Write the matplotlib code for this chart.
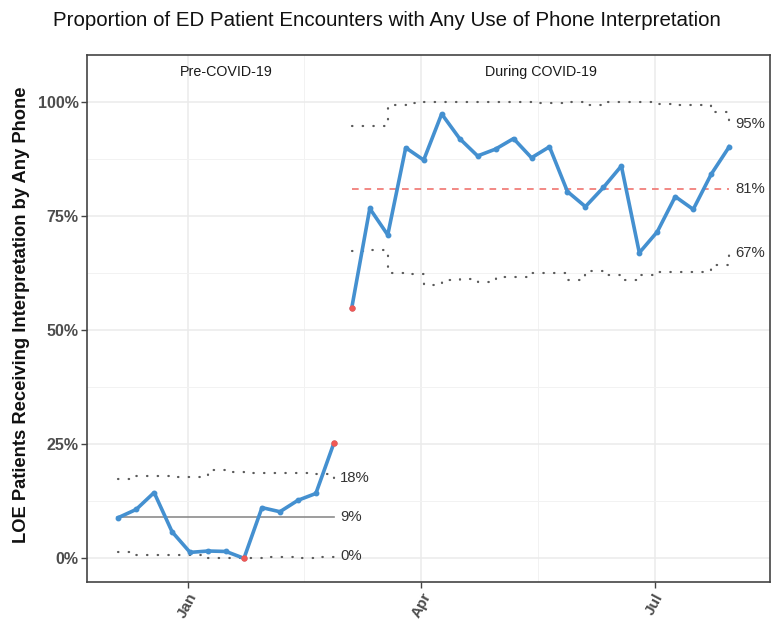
import numpy as np
import pandas as pd
import matplotlib
matplotlib.use("Agg")
from matplotlib import pyplot as plt
import matplotlib.dates as mdates
from matplotlib.ticker import FixedLocator

plt.rcParams["font.family"] = ["Liberation Sans", "DejaVu Sans"]

TITLE = "Proportion of ED Patient Encounters with Any Use of Phone Interpretation"
Y_LABEL = "LOE Patients Receiving Interpretation by Any Phone"
PHASES = ["Pre-COVID-19", "During COVID-19"]

# weekly samples (percent)
week_dates = pd.date_range("2019-12-05", periods=35, freq="7D")
n_pre = 13

pre_rate = [8.9, 10.7, 14.4, 5.8, 1.3, 1.6, 1.5, 0.0, 11.1, 10.2, 12.7, 14.2, 25.2]
pre_ucl = [17.3, 18.0, 18.0, 17.8, 17.7, 19.4, 19.0, 18.7, 18.6, 18.6, 18.6, 18.5, 17.6]
pre_lcl = [1.4, 0.7, 0.7, 0.7, 0.8, 0.0, 0.0, 0.1, 0.2, 0.2, 0.1, 0.2, 0.4]
pre_cl = 9.05

post_rate = [54.9, 76.6, 70.8, 89.9, 87.2, 97.3, 91.9, 88.1, 89.6, 91.9, 87.7,
             90.1, 80.3, 77.0, 81.2, 85.9, 66.9, 71.5, 79.2, 76.4, 84.1, 90.1]
post_ucl = [94.6, 94.6, 99.2, 99.8, 100, 100, 100, 100, 99.9, 100, 99.8,
            99.7, 100, 99.2, 99.9, 100, 99.9, 99.4, 99.3, 99.3, 97.8, 95.0]
post_lcl = [67.3, 67.5, 62.5, 62.3, 59.8, 60.9, 61.1, 60.6, 61.6, 61.6, 62.5,
            62.5, 60.9, 63.0, 62.0, 61.0, 62.0, 62.6, 62.7, 62.6, 64.2, 66.8]
post_cl = 80.8

MAJOR_TICKS = ["2020-01-01", "2020-04-01", "2020-07-01"]
MAJOR_LABELS = ["Jan", "Apr", "Jul"]
Y_TICKS = [0, 25, 50, 75, 100]

BLUE = "#4490d0"
RED = "#f15854"
LIMIT_GREY = "#5a5a5a"
DOTS = (0, (0.2, 4.6))


def _plot_phase(ax, x, rate, ucl, lcl, cl, cl_style):
    ax.plot(x, ucl, drawstyle="steps-post", ls=DOTS, lw=1.6, color=LIMIT_GREY,
            dash_capstyle="round", zorder=2)
    ax.plot(x, lcl, drawstyle="steps-post", ls=DOTS, lw=1.6, color=LIMIT_GREY,
            dash_capstyle="round", zorder=2)
    ax.plot([x[0], x[-1]], [cl, cl], zorder=2, **cl_style)
    ax.plot(x, rate, color=BLUE, lw=2.6, marker="o", ms=3.2, zorder=3)
    rate, ucl, lcl = map(np.asarray, (rate, ucl, lcl))
    out = (rate > ucl) | (rate < lcl)
    ax.plot(x[out], rate[out], ls="", marker="o", ms=3.6, color=RED, zorder=4)
    # end labels
    off = 2.5
    for v in (ucl[-1], cl, lcl[-1]):
        ax.text(x[-1] + off, v, "{:d}%".format(int(round(v))), ha="left",
                va="center", fontsize=10.7, color="#333333")


fig = plt.figure(figsize=(7.73, 6.26), dpi=100)
ax = fig.add_axes([87 / 773, 1 - 582.3 / 626, (770 - 87) / 773, (582.3 - 55) / 626])

xnum = mdates.date2num(week_dates.to_pydatetime())
x_pre, x_post = xnum[:n_pre], xnum[n_pre:]

_plot_phase(ax, x_pre, pre_rate, pre_ucl, pre_lcl, pre_cl,
            dict(color="#8c8c8c", lw=1.2, ls="-"))
_plot_phase(ax, x_post, post_rate, post_ucl, post_lcl, post_cl,
            dict(color="#f07470", lw=1.2, ls=(0, (4, 3.5))))

# phase labels
ax.text((x_pre[0] + x_pre[-1]) / 2, 106.5, PHASES[0], ha="center", va="center",
        fontsize=10.3, color="#1a1a1a")
ax.text((x_post[0] + x_post[-1]) / 2, 106.5, PHASES[1], ha="center", va="center",
        fontsize=10.3, color="#1a1a1a")

# axes
jan1 = mdates.date2num(pd.Timestamp("2020-01-01").to_pydatetime())
ax.set_xlim(jan1 - 39.15, jan1 + 226.9)
ax.set_ylim(-5.25, 110.2)

major = mdates.date2num(pd.to_datetime(MAJOR_TICKS).to_pydatetime())
ax.set_xticks(major)
ax.set_xticklabels(MAJOR_LABELS, rotation=62, ha="center", va="top",
                   fontsize=11, fontweight="bold", color="#4d4d4d")
ax.xaxis.set_minor_locator(FixedLocator((major[:-1] + major[1:]) / 2))
ax.set_yticks(Y_TICKS)
ax.set_yticklabels(["{}%".format(v) for v in Y_TICKS], fontsize=11.5,
                   fontweight="bold", color="#4d4d4d")
ax.yaxis.set_minor_locator(FixedLocator([12.5, 37.5, 62.5, 87.5]))

ax.grid(which="major", color="#ebebeb", lw=1.1, zorder=0)
ax.grid(which="minor", color="#f2f2f2", lw=0.7, zorder=0)
ax.set_axisbelow(True)
ax.tick_params(which="major", length=4, width=1, color="#444444", pad=2)
ax.tick_params(which="minor", length=0)
for s in ax.spines.values():
    s.set_color("#444444")
    s.set_linewidth(1.2)

fig.text(22 / 773, 1 - 315 / 626, Y_LABEL, rotation=90, ha="center", va="center",
         fontsize=13.2, fontweight="bold", color="#111111")
fig.text(0.5, 1 - 20 / 626, TITLE, ha="center", va="center", fontsize=14.8,
         color="#111111")

fig.savefig("out.png", dpi=100)
